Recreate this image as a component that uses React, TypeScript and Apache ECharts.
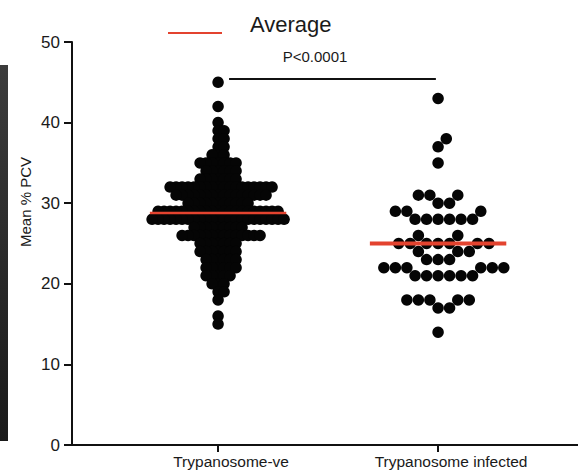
import React, { useEffect, useRef } from "react";
import * as echarts from "echarts";

const categories = ["Trypanosome-ve", "Trypanosome infected"];

// Group 1 (Trypanosome-ve): PCV levels and number of animals at each level
const negLevels = [45, 42, 40, 39, 38, 37, 36, 35, 34, 33, 32, 31, 30, 29, 28, 27, 26, 25, 24, 23, 22, 21, 20, 19, 18, 16, 15];
const negCounts = [1, 1, 1, 2, 2, 2, 3, 7, 6, 7, 18, 16, 11, 21, 23, 9, 14, 7, 7, 6, 6, 5, 3, 2, 1, 1, 1];

// Group 2 (Trypanosome infected)
const infLevels = [43, 38, 37, 35, 31, 30, 29, 28, 26, 25, 24, 23, 22, 21, 18, 17, 14];
const infCounts = [1, 1, 1, 1, 3, 2, 3, 6, 2, 7, 3, 3, 6, 6, 5, 2, 1];

const yTicks = [0, 10, 20, 30, 40, 50];
const pLabel = "P<0.0001";
const legendLabel = "Average";
const yName = "Mean % PCV";
const sigY = 45.4;

const W = 578;
const H = 472;
const GRID = { left: 72, right: 0, top: 42, bottom: 27 };
const xMin = 0.336;
const xMax = 2.636;
const RED = "#e3432f";

function expand(levels: number[], counts: number[]): number[] {
  const out: number[] = [];
  levels.forEach((v, i) => {
    for (let k = 0; k < counts[i]; k++) out.push(v);
  });
  return out;
}

function swarm(values: number[], d: number, yPx: number): number[] {
  const idx = values.map((_, i) => i).sort((a, b) => values[a] - values[b]);
  const placed: { x: number; y: number }[] = [];
  const offsets = new Array(values.length).fill(0);
  for (const i of idx) {
    const y = values[i] * yPx;
    const near = placed.filter((p) => Math.abs(p.y - y) < d);
    const cands = [0];
    for (const p of near) {
      const dx = Math.sqrt(d * d - (p.y - y) * (p.y - y));
      cands.push(p.x + dx, p.x - dx);
    }
    const ok = cands.filter((c) =>
      near.every((p) => (c - p.x) * (c - p.x) + (p.y - y) * (p.y - y) >= d * d - 1e-6)
    );
    ok.sort((a, b) => Math.abs(a) - Math.abs(b) || b - a);
    const x = ok[0];
    placed.push({ x, y });
    offsets[i] = x;
  }
  return offsets;
}

const mean = (a: number[]) => a.reduce((s, v) => s + v, 0) / a.length;

export default function App() {
  const ref = useRef<HTMLDivElement>(null);
  useEffect(() => {
    if (!ref.current) return;
    const chart = echarts.init(ref.current, undefined, { renderer: "svg" });
    const plotW = W - GRID.left - GRID.right;
    const plotH = H - GRID.top - GRID.bottom;
    const xPx = plotW / (xMax - xMin);
    const yPx = plotH / (yTicks[yTicks.length - 1] - yTicks[0]);

    const groups = [expand(negLevels, negCounts), expand(infLevels, infCounts)];
    const dists = [6, 11.5];
    const meanWidths = [2.5, 4];
    const half = 0.31;
    const font = "'Liberation Sans', Arial, sans-serif";

    const series: any[] = [];
    groups.forEach((vals, g) => {
      const c = g + 1;
      const offs = swarm(vals, dists[g], yPx);
      series.push({
        type: "scatter",
        data: vals.map((v, i) => [c + offs[i] / xPx, v]),
        symbolSize: 11.5,
        itemStyle: { color: "#050505", opacity: 1, borderWidth: 0 },
        z: 2,
        silent: true,
      });
      const m = mean(vals);
      series.push({
        type: "line",
        data: [
          [c - half, m],
          [c + half, m],
        ],
        symbol: "none",
        lineStyle: { color: RED, width: meanWidths[g], opacity: 1 },
        z: 4,
        silent: true,
      });
    });
    series.push({
      type: "line",
      data: [
        [1.05, sigY],
        [1.99, sigY],
      ],
      symbol: "none",
      lineStyle: { color: "#111", width: 2 },
      z: 3,
      silent: true,
    });

    chart.setOption({
      animation: false,
      textStyle: { fontFamily: font },
      grid: { ...GRID, containLabel: false },
      xAxis: {
        type: "value",
        min: xMin,
        max: xMax,
        splitLine: { show: false },
        axisLine: { show: true, lineStyle: { color: "#111", width: 2 } },
        axisTick: {
          show: true,
          customValues: [1, 2],
          length: 7,
          lineStyle: { color: "#111", width: 2 },
        },
        axisLabel: {
          customValues: [1, 2],
          formatter: (v: number) => categories[Math.round(v) - 1] ?? "",
          fontSize: 15.5,
          color: "#1a1a1a",
          margin: 8,
          padding: [0, 0, 0, 26],
          fontFamily: font,
        },
      },
      yAxis: {
        type: "value",
        min: yTicks[0],
        max: yTicks[yTicks.length - 1],
        interval: 10,
        splitLine: { show: false },
        axisLine: { show: true, lineStyle: { color: "#111", width: 2 } },
        axisTick: { show: true, length: 8, lineStyle: { color: "#111", width: 2 } },
        axisLabel: { fontSize: 17, color: "#1a1a1a", margin: 12, fontFamily: font },
      },
      graphic: [
        {
          type: "rect",
          shape: { x: 0, y: 65, width: 8, height: 376 },
          style: {
            fill: new echarts.graphic.LinearGradient(0, 0, 0, 1, [
              { offset: 0, color: "#3c3c3c" },
              { offset: 1, color: "#1a1a1a" },
            ]),
          },
          silent: true,
        },
        {
          type: "line",
          shape: { x1: 168, y1: 33, x2: 222, y2: 33 },
          style: { stroke: RED, lineWidth: 2 },
          silent: true,
        },
        {
          type: "text",
          x: 250,
          y: 24,
          style: {
            text: legendLabel,
            fontSize: 22,
            fill: "#1a1a1a",
            fontFamily: font,
            verticalAlign: "middle",
          },
          silent: true,
        },
        {
          type: "text",
          x: 315,
          y: 56,
          style: {
            text: pLabel,
            fontSize: 15,
            fill: "#1a1a1a",
            fontFamily: font,
            align: "center",
            verticalAlign: "middle",
          },
          silent: true,
        },
        {
          type: "text",
          x: 25,
          y: 202,
          rotation: Math.PI / 2,
          style: {
            text: yName,
            fontSize: 15,
            fill: "#1a1a1a",
            fontFamily: font,
            align: "center",
            verticalAlign: "middle",
          },
          silent: true,
        },
      ],
      series,
    });
    return () => chart.dispose();
  }, []);
  return (
    <div
      ref={ref}
      style={{ position: "fixed", left: 0, top: 0, width: W, height: H, background: "#fff" }}
    />
  );
}
